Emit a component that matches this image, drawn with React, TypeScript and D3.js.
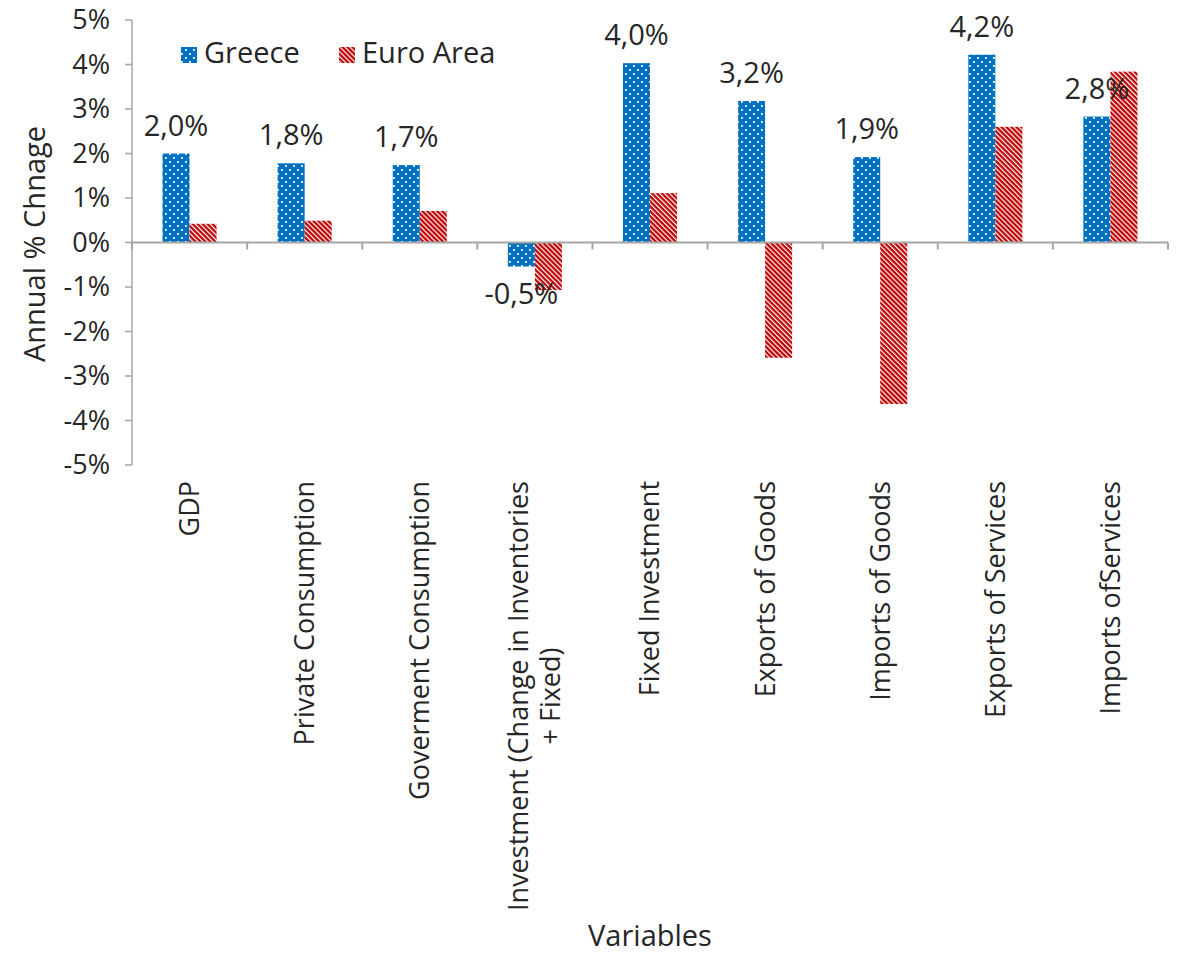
import React, { useEffect, useRef } from "react";
import * as d3 from "d3";

// Annual % change of demand components, Greece vs Euro Area
const categories = [
  "GDP",
  "Private Consumption",
  "Goverment Consumption",
  "Investment (Change in Inventories + Fixed)",
  "Fixed Investment",
  "Exports of Goods",
  "Imports of Goods",
  "Exports of Services",
  "Imports ofServices",
];
const seriesNames = ["Greece", "Euro Area"];
const greeceValues = [2.0, 1.78, 1.74, -0.54, 4.03, 3.18, 1.92, 4.22, 2.83];
const euroValues = [0.42, 0.49, 0.71, -1.07, 1.11, -2.59, -3.63, 2.6, 3.84];
const yTicks = [-5, -4, -3, -2, -1, 0, 1, 2, 3, 4, 5];

const WIDTH = 1178;
const HEIGHT = 953;
const FONT = "'Open Sans', sans-serif";
const TEXT = "#262626";
const AXIS = "#A6A6A6";
const BLUE = "#0070C0";
const RED = "#C00000";

export default function App() {
  const ref = useRef<SVGSVGElement>(null);

  useEffect(() => {
    const svg = d3.select(ref.current);
    svg.selectAll("*").remove();

    const left = 132;
    const right = 1168;
    const top = 20;
    const bottom = 465;

    const x = d3.scaleBand<string>().domain(categories).range([left, right]).padding(0);
    const xInner = d3
      .scaleBand<string>()
      .domain(seriesNames)
      .range([0, x.bandwidth()])
      .paddingInner(0)
      .paddingOuter(1.13);
    const y = d3.scaleLinear().domain([-5, 5]).range([bottom, top]);

    // fill patterns
    const defs = svg.append("defs");
    const dots = defs
      .append("pattern")
      .attr("id", "dots")
      .attr("patternUnits", "userSpaceOnUse")
      .attr("width", 8)
      .attr("height", 8);
    dots.append("rect").attr("width", 8).attr("height", 8).attr("fill", BLUE);
    dots.append("rect").attr("x", 1).attr("y", 1).attr("width", 1.8).attr("height", 1.8).attr("fill", "#fff");
    dots.append("rect").attr("x", 5).attr("y", 5).attr("width", 1.8).attr("height", 1.8).attr("fill", "#fff");

    const stripes = defs
      .append("pattern")
      .attr("id", "stripes")
      .attr("patternUnits", "userSpaceOnUse")
      .attr("width", 3.5)
      .attr("height", 10)
      .attr("patternTransform", "rotate(-45)");
    stripes.append("rect").attr("width", 3.5).attr("height", 10).attr("fill", RED);
    stripes.append("rect").attr("width", 1.2).attr("height", 10).attr("fill", "#fff");

    const fills = ["url(#dots)", "url(#stripes)"];
    const seriesValues = [greeceValues, euroValues];

    // bars
    seriesNames.forEach((s, si) => {
      svg
        .append("g")
        .selectAll("rect")
        .data(categories.map((c, i) => ({ c, v: seriesValues[si][i] })))
        .join("rect")
        .attr("x", (d) => (x(d.c) as number) + (xInner(s) as number))
        .attr("width", xInner.bandwidth())
        .attr("y", (d) => Math.min(y(d.v), y(0)))
        .attr("height", (d) => Math.abs(y(d.v) - y(0)))
        .attr("fill", fills[si]);
    });

    // y axis
    const yAxis = svg.append("g");
    yAxis
      .append("line")
      .attr("x1", left)
      .attr("x2", left)
      .attr("y1", y(5))
      .attr("y2", y(-5))
      .attr("stroke", AXIS)
      .attr("stroke-width", 1.5);
    yAxis
      .selectAll("line.tick")
      .data(yTicks)
      .join("line")
      .attr("class", "tick")
      .attr("x1", left - 7)
      .attr("x2", left)
      .attr("y1", (d) => y(d))
      .attr("y2", (d) => y(d))
      .attr("stroke", AXIS)
      .attr("stroke-width", 1.5);
    yAxis
      .selectAll("text")
      .data(yTicks)
      .join("text")
      .attr("x", left - 22)
      .attr("y", (d) => y(d))
      .attr("dy", "0.35em")
      .attr("text-anchor", "end")
      .attr("font-family", FONT)
      .attr("font-size", 27)
      .attr("fill", TEXT)
      .text((d) => `${d}%`);

    // x axis at zero
    const xAxis = svg.append("g");
    xAxis
      .append("line")
      .attr("x1", left)
      .attr("x2", right)
      .attr("y1", y(0))
      .attr("y2", y(0))
      .attr("stroke", AXIS)
      .attr("stroke-width", 2);
    const boundaries = categories.map((c) => x(c) as number).concat([right]);
    xAxis
      .selectAll("line.tick")
      .data(boundaries)
      .join("line")
      .attr("class", "tick")
      .attr("x1", (d) => d)
      .attr("x2", (d) => d)
      .attr("y1", y(0))
      .attr("y2", y(0) + 7)
      .attr("stroke", AXIS)
      .attr("stroke-width", 2);

    // category labels, rotated, wrapped
    const maxLabel = 450;
    const labelTop = 481;
    const lineH = 32;
    categories.forEach((c) => {
      const cx = (x(c) as number) + x.bandwidth() / 2;
      const g = svg.append("g").attr("transform", `translate(${cx},${labelTop}) rotate(-90)`);
      const probe = g
        .append("text")
        .attr("font-family", FONT)
        .attr("font-size", 27);
      const words = c.split(" ");
      const lines: string[] = [];
      let cur = "";
      words.forEach((w) => {
        const test = cur ? cur + " " + w : w;
        probe.text(test);
        if ((probe.node() as SVGTextElement).getComputedTextLength() > maxLabel && cur) {
          lines.push(cur);
          cur = w;
        } else {
          cur = test;
        }
      });
      lines.push(cur);
      let maxLen = 0;
      lines.forEach((l) => {
        probe.text(l);
        maxLen = Math.max(maxLen, (probe.node() as SVGTextElement).getComputedTextLength());
      });
      probe.remove();
      lines.forEach((l, i) => {
        g.append("text")
          .attr("x", -maxLen / 2)
          .attr("y", (i - (lines.length - 1) / 2) * lineH)
          .attr("dy", "0.35em")
          .attr("text-anchor", "middle")
          .attr("font-family", FONT)
          .attr("font-size", 27)
          .attr("fill", TEXT)
          .text(l);
      });
    });

    // value labels on Greece bars (comma decimal, ASCII hyphen for negatives)
    const fmt = (v: number) => (v < 0 ? "-" : "") + Math.abs(v).toFixed(1).replace(".", ",") + "%";
    svg
      .append("g")
      .selectAll("text")
      .data(categories.map((c, i) => ({ c, v: greeceValues[i] })))
      .join("text")
      .attr("x", (d) => (x(d.c) as number) + (xInner("Greece") as number) + xInner.bandwidth() / 2)
      .attr("y", (d) => (d.v >= 0 ? y(d.v) - 18 : y(d.v) + 37))
      .attr("text-anchor", "middle")
      .attr("font-family", FONT)
      .attr("font-size", 29)
      .attr("fill", TEXT)
      .text((d) => fmt(d.v));

    // legend
    const legend = svg.append("g");
    const legendItems = [
      { name: seriesNames[0], fill: fills[0], x: 181 },
      { name: seriesNames[1], fill: fills[1], x: 339 },
    ];
    legendItems.forEach((it) => {
      legend
        .append("rect")
        .attr("x", it.x)
        .attr("y", 47)
        .attr("width", 16)
        .attr("height", 16)
        .attr("fill", it.fill);
      legend
        .append("text")
        .attr("x", it.x + 23)
        .attr("y", 63)
        .attr("font-family", FONT)
        .attr("font-size", 29)
        .attr("fill", TEXT)
        .text(it.name);
    });

    // axis titles
    svg
      .append("text")
      .attr("transform", `translate(45,244) rotate(-90)`)
      .attr("text-anchor", "middle")
      .attr("font-family", FONT)
      .attr("font-size", 29)
      .attr("fill", TEXT)
      .text("Annual % Chnage");
    svg
      .append("text")
      .attr("x", (left + right) / 2)
      .attr("y", 946)
      .attr("text-anchor", "middle")
      .attr("font-family", FONT)
      .attr("font-size", 29)
      .attr("fill", TEXT)
      .text("Variables");
  }, []);

  return (
    <svg
      ref={ref}
      width={WIDTH}
      height={HEIGHT}
      style={{ position: "absolute", left: 0, top: 0, background: "#fff" }}
    />
  );
}
